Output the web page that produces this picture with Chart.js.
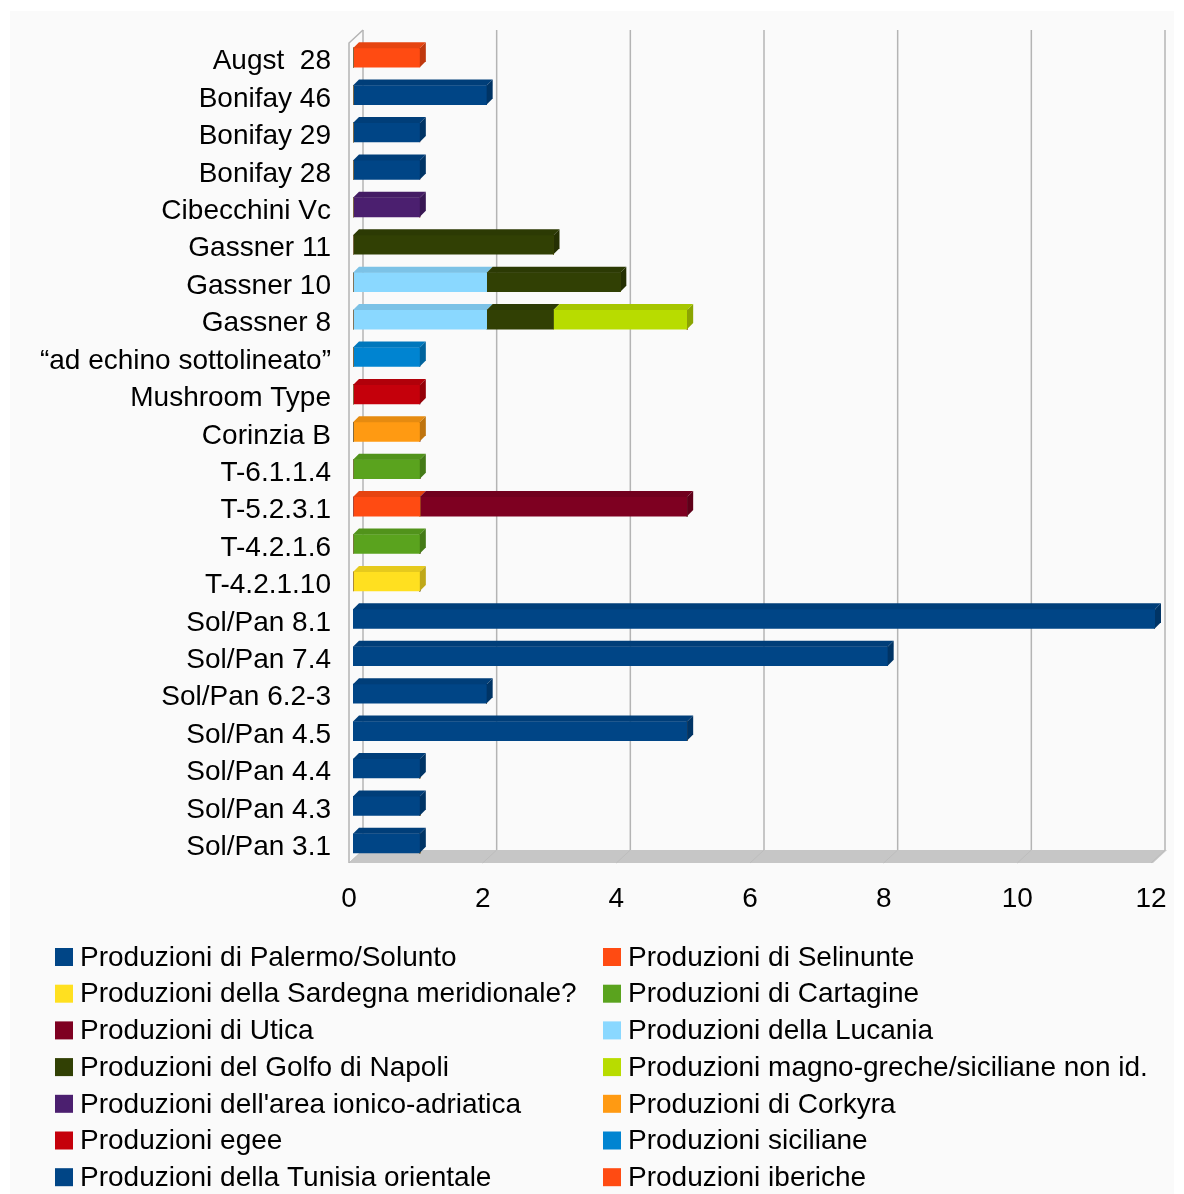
<!DOCTYPE html>
<html lang="it">
<head>
    <meta charset="UTF-8">
    <title>Produzioni</title>
    <script src="https://cdn.jsdelivr.net/npm/chart.js"></script>
    <style>
        html, body { margin: 0; padding: 0; background: #fff; }
        #pannello { position: absolute; left: 10px; top: 11px; width: 1164px; height: 1183px; background: #fafafa; }
        #grafico { position: absolute; left: 0; top: 0; width: 1184px; height: 1194px; }
    </style>
</head>
<body>
    <div id="pannello"></div>
    <div id="grafico">
        <canvas id="grafico-info" width="1184" height="1194"></canvas>
    </div>
    <script>
        // dati
        const categorie = ['Augst  28', 'Bonifay 46', 'Bonifay 29', 'Bonifay 28', 'Cibecchini Vc', 'Gassner 11',
            'Gassner 10', 'Gassner 8', '\u201Cad echino sottolineato\u201D', 'Mushroom Type', 'Corinzia B',
            'T-6.1.1.4', 'T-5.2.3.1', 'T-4.2.1.6', 'T-4.2.1.10', 'Sol/Pan 8.1', 'Sol/Pan 7.4',
            'Sol/Pan 6.2-3', 'Sol/Pan 4.5', 'Sol/Pan 4.4', 'Sol/Pan 4.3', 'Sol/Pan 3.1'];

        const palermoSolunto  = [0,0,0,0,0,0,0,0,0,0,0,0,0,0,0,12,8,2,5,1,1,1];
        const selinunte       = [0,0,0,0,0,0,0,0,0,0,0,0,1,0,0,0,0,0,0,0,0,0];
        const sardegna        = [0,0,0,0,0,0,0,0,0,0,0,0,0,0,1,0,0,0,0,0,0,0];
        const cartagine       = [0,0,0,0,0,0,0,0,0,0,0,1,0,1,0,0,0,0,0,0,0,0];
        const utica           = [0,0,0,0,0,0,0,0,0,0,0,0,4,0,0,0,0,0,0,0,0,0];
        const lucania         = [0,0,0,0,0,0,2,2,0,0,0,0,0,0,0,0,0,0,0,0,0,0];
        const golfoNapoli     = [0,0,0,0,0,3,2,1,0,0,0,0,0,0,0,0,0,0,0,0,0,0];
        const magnoGreche     = [0,0,0,0,0,0,0,2,0,0,0,0,0,0,0,0,0,0,0,0,0,0];
        const ionicoAdriatica = [0,0,0,0,1,0,0,0,0,0,0,0,0,0,0,0,0,0,0,0,0,0];
        const corkyra         = [0,0,0,0,0,0,0,0,0,0,1,0,0,0,0,0,0,0,0,0,0,0];
        const egee            = [0,0,0,0,0,0,0,0,0,1,0,0,0,0,0,0,0,0,0,0,0,0];
        const siciliane       = [0,0,0,0,0,0,0,0,1,0,0,0,0,0,0,0,0,0,0,0,0,0];
        const tunisiaOr       = [0,2,1,1,0,0,0,0,0,0,0,0,0,0,0,0,0,0,0,0,0,0];
        const iberiche        = [1,0,0,0,0,0,0,0,0,0,0,0,0,0,0,0,0,0,0,0,0,0];

        const nomiSerie = ['Produzioni di Palermo/Solunto', 'Produzioni di Selinunte',
            'Produzioni della Sardegna meridionale?', 'Produzioni di Cartagine', 'Produzioni di Utica',
            'Produzioni della Lucania', 'Produzioni del Golfo di Napoli',
            'Produzioni magno-greche/siciliane non id.', "Produzioni dell'area ionico-adriatica",
            'Produzioni di Corkyra', 'Produzioni egee', 'Produzioni siciliane',
            'Produzioni della Tunisia orientale', 'Produzioni iberiche'];
        const valoriSerie = [palermoSolunto, selinunte, sardegna, cartagine, utica, lucania, golfoNapoli,
            magnoGreche, ionicoAdriatica, corkyra, egee, siciliane, tunisiaOr, iberiche];
        const tickX = [0, 2, 4, 6, 8, 10, 12];

        const colori = ['#004586', '#ff4b12', '#ffe020', '#5aa31e', '#7e0021', '#8ad8ff', '#314004',
            '#b8dc00', '#4b1f6f', '#ff9a12', '#c5000b', '#0084d1', '#004586', '#ff4b12'];
        const font = '"Liberation Sans", Arial, sans-serif';

        function scurisci(hex, f) {
            const n = parseInt(hex.slice(1), 16);
            const r = Math.round(((n >> 16) & 255) * f);
            const g = Math.round(((n >> 8) & 255) * f);
            const b = Math.round((n & 255) * f);
            return 'rgb(' + r + ',' + g + ',' + b + ')';
        }

        // cornice 3D: pavimento, parete sinistra, griglia sul fondo
        const cornice3d = {
            id: 'cornice3d',
            beforeDatasetsDraw(chart) {
                const ctx = chart.ctx;
                const a = chart.chartArea;
                const x = chart.scales.x;
                const px = 14, py = 13;
                const fx0 = x.getPixelForValue(0) - 4;
                const fx1 = x.getPixelForValue(12) - 2;
                const yFronte = a.bottom + 1;
                const yFondo = yFronte - py;
                const yAlto = a.top - 9;
                ctx.save();
                ctx.fillStyle = '#c6c6c6';
                ctx.beginPath();
                ctx.moveTo(fx0, yFronte);
                ctx.lineTo(fx1, yFronte);
                ctx.lineTo(fx1 + px, yFondo);
                ctx.lineTo(fx0 + px, yFondo);
                ctx.closePath();
                ctx.fill();
                ctx.strokeStyle = '#b4b4b4';
                ctx.lineWidth = 1.5;
                tickX.forEach(v => {
                    const gx = x.getPixelForValue(v) + 10;
                    ctx.beginPath();
                    ctx.moveTo(gx, yAlto);
                    ctx.lineTo(gx, yFondo);
                    ctx.stroke();
                });
                ctx.strokeStyle = '#bdbdbd';
                ctx.lineWidth = 1;
                tickX.forEach(v => {
                    const gx = x.getPixelForValue(v) + 10;
                    ctx.beginPath();
                    ctx.moveTo(gx, yFondo);
                    ctx.lineTo(gx - px, yFronte);
                    ctx.stroke();
                });
                ctx.strokeStyle = '#b4b4b4';
                ctx.lineWidth = 1.5;
                ctx.beginPath();
                ctx.moveTo(fx0, yFronte);
                ctx.lineTo(fx0, yAlto + py);
                ctx.lineTo(fx0 + px, yAlto);
                ctx.stroke();
                ctx.restore();
            }
        };

        // facce superiori e laterali delle barre
        const barre3d = {
            id: 'barre3d',
            afterDatasetsDraw(chart) {
                const ctx = chart.ctx;
                const d = 6;
                const ultimo = chart.data.labels.map(() => -1);
                chart.data.datasets.forEach((ds, i) => ds.data.forEach((v, j) => { if (v) ultimo[j] = i; }));
                ctx.save();
                chart.data.datasets.forEach((ds, i) => {
                    chart.getDatasetMeta(i).data.forEach((bar, j) => {
                        if (!ds.data[j]) return;
                        const p = bar.getProps(['x', 'y', 'base', 'height'], true);
                        const alto = p.y - p.height / 2, basso = p.y + p.height / 2;
                        ctx.fillStyle = scurisci(ds.backgroundColor, 0.9);
                        ctx.beginPath();
                        ctx.moveTo(p.base, alto);
                        ctx.lineTo(p.x, alto);
                        ctx.lineTo(p.x + d, alto - d);
                        ctx.lineTo(p.base + d, alto - d);
                        ctx.closePath();
                        ctx.fill();
                        if (ultimo[j] === i) {
                            ctx.fillStyle = scurisci(ds.backgroundColor, 0.75);
                            ctx.beginPath();
                            ctx.moveTo(p.x, alto);
                            ctx.lineTo(p.x + d, alto - d);
                            ctx.lineTo(p.x + d, basso - d);
                            ctx.lineTo(p.x, basso);
                            ctx.closePath();
                            ctx.fill();
                        }
                    });
                });
                ctx.restore();
            }
        };

        // legenda su due colonne
        const legenda = {
            id: 'legenda',
            afterDraw(chart) {
                const ctx = chart.ctx;
                ctx.save();
                ctx.font = '28px ' + font;
                ctx.textBaseline = 'middle';
                chart.data.datasets.forEach((ds, i) => {
                    const lx = [55, 603][i % 2];
                    const ly = 957 + Math.floor(i / 2) * 36.7;
                    ctx.fillStyle = ds.backgroundColor;
                    ctx.fillRect(lx, ly - 9, 18, 18);
                    ctx.fillStyle = '#000';
                    ctx.fillText(ds.label, lx + 25, ly + 1);
                });
                ctx.restore();
            }
        };

        function creaGrafico() {
            const ctx = document.getElementById('grafico-info').getContext('2d');
            const datasets = nomiSerie.map((nome, i) => ({
                label: nome,
                data: valoriSerie[i],
                backgroundColor: colori[i],
                borderWidth: 0,
                barThickness: 19
            }));
            new Chart(ctx, {
                type: 'bar',
                data: { labels: categorie, datasets: datasets },
                options: {
                    indexAxis: 'y',
                    responsive: false,
                    animation: false,
                    layout: { padding: { left: 0, right: 29, top: 39, bottom: 0 } },
                    plugins: { legend: { display: false }, tooltip: { enabled: false } },
                    scales: {
                        x: {
                            stacked: true,
                            min: 0,
                            max: 12,
                            grid: { display: false, drawTicks: false },
                            border: { display: false },
                            afterBuildTicks: s => { s.ticks = tickX.map(v => ({ value: v })); },
                            afterFit: s => {
                                s.height = 1194 - 862;
                                s.paddingLeft = 0;
                                s.paddingRight = 0;
                            },
                            ticks: { color: '#000', padding: 20, labelOffset: -4, font: { size: 28, family: font } }
                        },
                        y: {
                            stacked: true,
                            grid: { display: false, drawTicks: false },
                            border: { display: false },
                            afterFit: s => { s.width = 353; },
                            ticks: { color: '#000', padding: 22, labelOffset: 4, autoSkip: false, font: { size: 28, family: font } }
                        }
                    }
                },
                plugins: [cornice3d, barre3d, legenda]
            });
        }

        window.onload = function() {
            creaGrafico();
        };
    </script>
</body>
</html>
